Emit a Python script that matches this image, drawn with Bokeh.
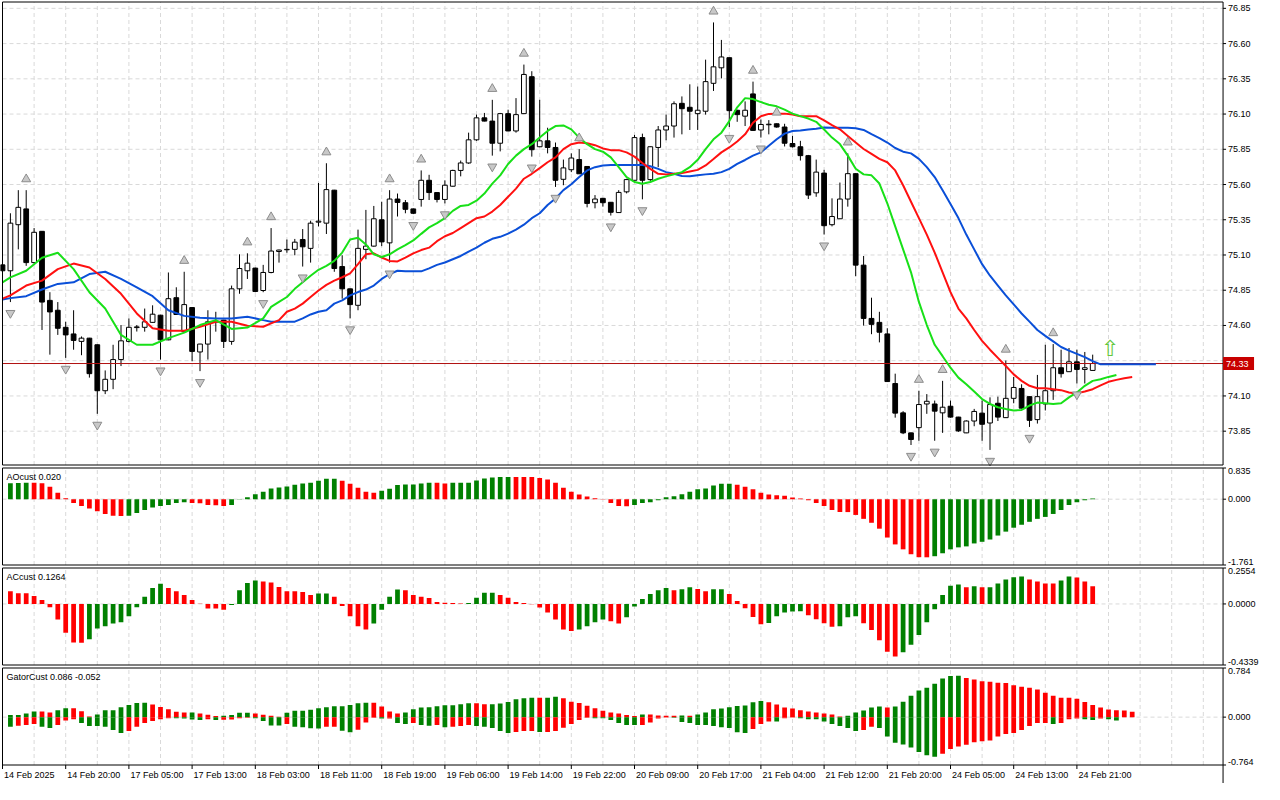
from bokeh.plotting import figure
from bokeh.layouts import gridplot
from bokeh.models import Range1d, ColumnDataSource
from bokeh.embed import file_html
from bokeh.resources import INLINE
from bokeh.core.properties import value

# ---------------- data ----------------
FIRST_BAR = -1
OPEN = [75.030, 74.988, 75.315, 75.427, 75.046, 75.268, 74.778, 74.708, 74.587, 74.540, 74.487, 74.510, 74.463, 74.137, 74.218, 74.358, 74.487, 74.585, 74.587, 74.622, 74.673, 74.498, 74.797, 74.556, 74.727, 74.412, 74.468, 74.625, 74.638, 74.487, 74.860, 74.988, 75.007, 74.848, 74.976, 75.125, 75.137, 75.140, 75.210, 75.147, 75.333, 75.326, 75.560, 75.018, 74.860, 74.743, 75.140, 75.163, 75.350, 75.186, 75.497, 75.471, 75.427, 75.494, 75.630, 75.543, 75.494, 75.588, 75.700, 75.753, 75.917, 76.073, 76.050, 75.893, 76.103, 75.980, 76.103, 76.365, 75.868, 75.910, 75.863, 75.637, 75.705, 75.777, 75.728, 75.471, 75.502, 75.474, 75.401, 75.548, 75.630, 75.933, 75.635, 75.863, 75.987, 76.015, 76.176, 76.148, 76.103, 76.120, 76.318, 76.428, 76.500, 76.127, 76.085, 76.243, 75.987, 76.024, 76.031, 76.008, 75.891, 75.868, 75.805, 75.541, 75.681, 75.315, 75.357, 75.497, 75.677, 75.028, 74.650, 74.622, 74.540, 74.188, 73.980, 73.838, 73.875, 74.043, 74.043, 73.980, 74.027, 73.950, 73.838, 73.922, 73.978, 73.908, 74.048, 73.946, 74.083, 74.153, 74.095, 73.932, 74.043, 74.137, 74.300, 74.272, 74.342, 74.288, 74.281]
HIGH = [75.050, 75.396, 75.560, 75.560, 75.291, 75.270, 74.836, 74.766, 74.626, 74.708, 74.522, 74.512, 74.465, 74.281, 74.463, 74.603, 74.650, 74.603, 74.720, 74.743, 74.675, 74.976, 74.871, 74.981, 74.730, 74.470, 74.708, 74.697, 74.640, 74.883, 75.105, 75.112, 75.010, 75.030, 75.291, 75.138, 75.210, 75.214, 75.284, 75.343, 75.611, 75.751, 75.562, 75.098, 74.862, 75.280, 75.420, 75.448, 75.478, 75.560, 75.536, 75.490, 75.430, 75.700, 75.669, 75.545, 75.630, 75.705, 75.770, 75.968, 76.096, 76.108, 76.201, 76.108, 76.131, 76.213, 76.451, 76.404, 76.201, 76.003, 75.898, 75.777, 75.821, 75.851, 75.730, 75.525, 75.505, 75.475, 75.560, 75.641, 75.952, 75.961, 75.870, 76.015, 76.096, 76.190, 76.225, 76.311, 76.295, 76.486, 76.750, 76.626, 76.500, 76.130, 76.190, 76.330, 76.061, 76.057, 76.033, 76.031, 75.945, 75.910, 75.810, 75.777, 75.704, 75.502, 75.614, 75.821, 75.680, 75.093, 74.797, 74.697, 74.580, 74.258, 73.992, 73.840, 74.137, 74.113, 74.067, 74.207, 74.067, 73.952, 73.927, 74.008, 74.067, 74.090, 74.095, 74.351, 74.235, 74.183, 74.096, 74.249, 74.463, 74.468, 74.428, 74.440, 74.428, 74.412, 74.393]
LOW = [74.960, 74.766, 75.140, 75.023, 75.040, 74.568, 74.393, 74.533, 74.370, 74.428, 74.389, 74.230, 73.973, 74.113, 74.148, 74.312, 74.480, 74.557, 74.556, 74.620, 74.358, 74.495, 74.675, 74.553, 74.346, 74.276, 74.358, 74.556, 74.440, 74.463, 74.825, 74.930, 74.836, 74.836, 74.970, 75.046, 75.116, 75.098, 75.018, 75.046, 75.303, 75.249, 74.981, 74.790, 74.650, 74.708, 75.070, 75.160, 75.163, 75.046, 75.373, 75.396, 75.390, 75.443, 75.490, 75.473, 75.466, 75.585, 75.658, 75.747, 75.910, 76.048, 75.805, 75.835, 75.978, 75.968, 76.100, 75.798, 75.865, 75.821, 75.583, 75.595, 75.688, 75.675, 75.438, 75.431, 75.443, 75.380, 75.400, 75.537, 75.630, 75.495, 75.618, 75.723, 75.914, 75.933, 75.956, 75.987, 75.987, 76.096, 76.264, 76.353, 76.008, 76.045, 76.015, 75.980, 75.933, 75.956, 76.003, 75.870, 75.863, 75.770, 75.497, 75.513, 75.245, 75.303, 75.355, 75.443, 74.949, 74.599, 74.538, 74.480, 74.200, 73.946, 73.829, 73.752, 73.782, 73.973, 73.782, 73.838, 73.946, 73.845, 73.836, 73.885, 73.782, 73.717, 73.922, 73.945, 74.048, 74.010, 73.880, 73.904, 73.997, 74.072, 74.230, 74.270, 74.188, 74.188, 74.280]
CLOSE = [74.988, 75.326, 75.438, 75.046, 75.261, 74.766, 74.696, 74.580, 74.533, 74.494, 74.510, 74.258, 74.137, 74.218, 74.358, 74.491, 74.587, 74.590, 74.626, 74.680, 74.498, 74.790, 74.678, 74.748, 74.416, 74.468, 74.626, 74.630, 74.487, 74.860, 75.004, 75.042, 74.841, 74.976, 75.128, 75.135, 75.140, 75.191, 75.158, 75.326, 75.340, 75.564, 75.004, 74.860, 74.748, 75.147, 75.163, 75.357, 75.193, 75.497, 75.473, 75.424, 75.396, 75.630, 75.543, 75.494, 75.595, 75.700, 75.753, 75.917, 76.073, 76.050, 75.893, 76.103, 75.980, 76.096, 76.381, 75.847, 75.910, 75.863, 75.630, 75.718, 75.788, 75.676, 75.466, 75.497, 75.471, 75.403, 75.544, 75.635, 75.933, 75.630, 75.868, 75.987, 76.015, 76.173, 76.138, 76.120, 76.127, 76.330, 76.435, 76.505, 76.124, 76.096, 76.127, 75.984, 76.026, 76.028, 76.008, 75.893, 75.868, 75.805, 75.525, 75.688, 75.308, 75.373, 75.497, 75.677, 75.028, 74.650, 74.608, 74.552, 74.202, 73.978, 73.838, 73.791, 74.039, 74.062, 73.992, 74.020, 73.950, 73.852, 73.922, 73.990, 73.899, 74.039, 73.950, 74.083, 74.160, 74.013, 73.927, 74.095, 74.137, 74.300, 74.258, 74.342, 74.288, 74.300, 74.330]

FRACTAL_UP = [2, 22, 30, 33, 40, 48, 52, 61, 65, 72, 89, 94, 97, 106, 115, 118, 126, 132]
FRACTAL_DOWN = [0, 7, 11, 19, 24, 32, 37, 43, 48, 51, 55, 61, 66, 69, 76, 80, 91, 95, 103, 114, 117, 124, 129, 135]

# Alligator (jaw = blue, teeth = red, lips = green), read at these bar indices
EVEN_BARS = [-1] + list(range(0, 33, 2))
JAW = [74.785, 74.794, 74.808, 74.855, 74.895, 74.906, 74.965, 74.981, 74.930, 74.871, 74.808, 74.708, 74.668, 74.654, 74.650, 74.650, 74.662, 74.638,
       74.627, 74.627, 74.627, 74.627, 74.650, 74.678, 74.697, 74.708, 74.755, 74.778, 74.813, 74.837, 74.855, 74.883, 74.930, 74.965, 74.988, 74.984, 74.984, 74.984, 75.005, 75.030, 75.047, 75.070, 75.093, 75.124, 75.152, 75.187, 75.215, 75.229, 75.252, 75.280, 75.315, 75.361, 75.396, 75.455,
       75.501, 75.560, 75.602, 75.653, 75.700, 75.723, 75.735, 75.739, 75.739, 75.739, 75.739, 75.739, 75.730, 75.711, 75.688, 75.676, 75.660, 75.658, 75.665, 75.672, 75.676, 75.688, 75.711, 75.746, 75.774, 75.805, 75.828, 75.875, 75.921, 75.961, 75.980, 75.984, 75.991, 75.996, 76.005,
       76.003, 76.003, 76.003, 75.999, 75.987, 75.957, 75.929, 75.898, 75.859, 75.833, 75.821, 75.782, 75.723, 75.653, 75.560, 75.462, 75.362, 75.245, 75.140, 75.035, 74.953, 74.883, 74.813, 74.750, 74.685, 74.627, 74.568, 74.526, 74.487, 74.447, 74.421, 74.398, 74.375, 74.347,
       74.324, 74.324, 74.324, 74.324, 74.324, 74.324, 74.324, 74.324]
TEETH = [74.790, 74.813, 74.883, 74.918, 75.000, 75.039, 75.011, 74.930, 74.825, 74.685, 74.580, 74.563, 74.563, 74.591, 74.626, 74.626, 74.598, 74.591,
         74.615, 74.638, 74.697, 74.720, 74.755, 74.802, 74.848, 74.888, 74.918, 74.942, 74.970, 75.035, 75.105, 75.112, 75.082, 75.058, 75.054, 75.082, 75.112, 75.135, 75.152, 75.198, 75.233, 75.256, 75.291, 75.326, 75.361, 75.373, 75.408, 75.455, 75.513, 75.571, 75.641, 75.676, 75.716, 75.758,
         75.793, 75.851, 75.886, 75.898, 75.893, 75.879, 75.856, 75.844, 75.844, 75.828, 75.798, 75.753, 75.711, 75.676, 75.672, 75.676, 75.681, 75.693, 75.704, 75.735, 75.781, 75.828, 75.863, 75.905, 75.956, 76.038, 76.085, 76.101, 76.103, 76.103, 76.096, 76.085, 76.085, 76.085, 76.055,
         76.022, 75.992, 75.945, 75.898, 75.852, 75.817, 75.782, 75.758, 75.700, 75.595, 75.478, 75.362, 75.245, 75.117, 74.977, 74.837, 74.720, 74.650, 74.568, 74.491, 74.428, 74.370, 74.312, 74.253, 74.207, 74.172, 74.155, 74.155, 74.148, 74.141, 74.125, 74.118, 74.132, 74.148, 74.175, 74.200, 74.214, 74.226, 74.235]
LIPS = [74.906, 74.941, 74.988, 75.081, 75.116, 75.000, 74.836, 74.720, 74.533, 74.463, 74.463, 74.510, 74.549, 74.603, 74.638, 74.575, 74.585, 74.650,
        74.732, 74.767, 74.802, 74.860, 74.907, 74.953, 74.995, 75.023, 75.058, 75.117, 75.210, 75.222, 75.175, 75.105, 75.086, 75.105, 75.140, 75.170, 75.203, 75.250, 75.296, 75.326, 75.361, 75.413, 75.448, 75.455, 75.485, 75.536, 75.606, 75.665, 75.746, 75.805, 75.851, 75.886, 75.933, 75.980,
        76.015, 76.019, 75.991, 75.933, 75.886, 75.851, 75.833, 75.793, 75.723, 75.653, 75.618, 75.606, 75.618, 75.641, 75.658, 75.672, 75.688, 75.723, 75.775, 75.851, 75.921, 75.968, 76.050, 76.148, 76.213, 76.206, 76.185, 76.166, 76.155, 76.131, 76.103, 76.085, 76.068, 76.045, 75.990,
        75.933, 75.887, 75.805, 75.712, 75.672, 75.665, 75.607, 75.467, 75.303, 75.140, 74.977, 74.767, 74.603, 74.463, 74.382, 74.300, 74.230, 74.183, 74.132, 74.078, 74.043, 74.020, 74.008, 73.997, 74.001, 74.032, 74.053, 74.048, 74.043, 74.048, 74.090, 74.125, 74.172, 74.207, 74.219, 74.235, 74.249]

LAST_PRICE = 74.33
SIGNAL_BAR = 139.2
SIGNAL_PRICE = 74.44

AO = [0.430, 0.435, 0.440, 0.438, 0.430, 0.333, 0.175, 0.026, -0.105, -0.184, -0.246, -0.324, -0.395, -0.440, -0.450, -0.445, -0.368, -0.289, -0.219, -0.184, -0.158, -0.105, -0.079, -0.105, -0.110, -0.158, -0.160, -0.184, -0.158, -0.005, 0.053, 0.132, 0.202, 0.289, 0.316, 0.342, 0.386, 0.421, 0.439, 0.491, 0.544, 0.548, 0.491, 0.412, 0.307, 0.202, 0.175, 0.228, 0.280, 0.377, 0.395, 0.396, 0.421, 0.439, 0.438, 0.421, 0.439, 0.440, 0.441, 0.500, 0.553, 0.579, 0.596, 0.597, 0.595, 0.594, 0.593, 0.570, 0.526, 0.439, 0.307, 0.202, 0.123, 0.070, 0.026, -0.010, -0.105, -0.184, -0.186, -0.158, -0.105, -0.079, -0.026, 0.053, 0.079, 0.132, 0.202, 0.263, 0.289, 0.368, 0.412, 0.414, 0.386, 0.333, 0.263, 0.175, 0.123, 0.105, 0.090, 0.044, 0.018, -0.026, -0.105, -0.184, -0.289, -0.342, -0.345, -0.421, -0.526, -0.631, -0.789, -1.026, -1.210, -1.342, -1.473, -1.552, -1.555, -1.526, -1.447, -1.342, -1.289, -1.263, -1.184, -1.140, -1.079, -0.973, -0.868, -0.763, -0.684, -0.605, -0.526, -0.474, -0.395, -0.289, -0.158, -0.079, -0.025, 0.020]
AC = [0.0905, 0.0766, 0.0760, 0.0557, 0.0279, -0.0232, -0.111, -0.204, -0.274, -0.275, -0.251, -0.174, -0.158, -0.139, -0.130, -0.088, -0.023, 0.051, 0.114, 0.144, 0.114, 0.091, 0.063, 0.028, 0.002, -0.032, -0.033, -0.042, -0.007, 0.097, 0.149, 0.167, 0.160, 0.153, 0.121, 0.091, 0.090, 0.084, 0.063, 0.074, 0.075, 0.051, -0.014, -0.088, -0.158, -0.181, -0.139, -0.042, 0.051, 0.102, 0.097, 0.063, 0.051, 0.042, 0.014, 0.008, 0.006, 0.004, 0.007, 0.044, 0.079, 0.080, 0.063, 0.044, 0.014, 0.007, -0.002, -0.026, -0.060, -0.111, -0.181, -0.193, -0.181, -0.158, -0.130, -0.111, -0.123, -0.139, -0.095, -0.019, 0.035, 0.070, 0.097, 0.114, 0.097, 0.104, 0.118, 0.107, 0.091, 0.104, 0.105, 0.070, 0.021, -0.030, -0.093, -0.144, -0.135, -0.088, -0.060, -0.053, -0.052, -0.081, -0.109, -0.137, -0.162, -0.158, -0.095, -0.088, -0.137, -0.186, -0.258, -0.339, -0.374, -0.344, -0.290, -0.220, -0.130, -0.037, 0.063, 0.130, 0.139, 0.118, 0.125, 0.118, 0.119, 0.146, 0.174, 0.190, 0.195, 0.174, 0.160, 0.146, 0.145, 0.167, 0.195, 0.188, 0.160, 0.1264]
GATOR_UP = [0.032, 0.034, 0.058, 0.089, 0.088, 0.074, 0.110, 0.142, 0.140, 0.095, 0.011, 0.042, 0.110, 0.111, 0.158, 0.195, 0.226, 0.231, 0.200, 0.163, 0.126, 0.084, 0.074, 0.075, 0.058, 0.037, 0.016, 0.021, 0.032, 0.068, 0.069, 0.058, 0.037, 0.021, 0.005, 0.068, 0.100, 0.101, 0.116, 0.142, 0.158, 0.174, 0.175, 0.195, 0.221, 0.231, 0.230, 0.168, 0.089, 0.058, 0.074, 0.126, 0.153, 0.158, 0.174, 0.189, 0.190, 0.205, 0.221, 0.220, 0.205, 0.206, 0.216, 0.242, 0.284, 0.300, 0.310, 0.309, 0.310, 0.326, 0.300, 0.247, 0.226, 0.180, 0.142, 0.100, 0.074, 0.058, 0.032, 0.016, 0.042, 0.042, 0.026, 0.021, 0.021, 0.026, 0.021, 0.042, 0.074, 0.126, 0.137, 0.158, 0.179, 0.184, 0.237, 0.258, 0.237, 0.200, 0.153, 0.137, 0.110, 0.089, 0.074, 0.058, 0.042, 0.011, 0.021, 0.074, 0.105, 0.153, 0.168, 0.153, 0.168, 0.247, 0.342, 0.426, 0.468, 0.531, 0.615, 0.658, 0.660, 0.626, 0.600, 0.573, 0.563, 0.547, 0.545, 0.510, 0.484, 0.468, 0.442, 0.389, 0.342, 0.310, 0.309, 0.295, 0.242, 0.195, 0.153, 0.121, 0.110, 0.105, 0.086]
GATOR_DOWN = [-0.153, -0.137, -0.126, -0.110, -0.153, -0.174, -0.126, -0.053, -0.032, -0.095, -0.142, -0.143, -0.153, -0.205, -0.252, -0.221, -0.153, -0.095, -0.063, -0.032, -0.016, -0.017, -0.021, -0.037, -0.047, -0.032, -0.047, -0.042, -0.037, -0.016, -0.011, -0.016, -0.063, -0.132, -0.133, -0.110, -0.153, -0.163, -0.179, -0.180, -0.153, -0.152, -0.216, -0.242, -0.200, -0.084, -0.011, -0.021, -0.021, -0.095, -0.110, -0.095, -0.126, -0.137, -0.126, -0.163, -0.153, -0.142, -0.126, -0.142, -0.153, -0.174, -0.221, -0.252, -0.237, -0.221, -0.220, -0.237, -0.236, -0.221, -0.168, -0.110, -0.047, -0.011, -0.016, -0.017, -0.047, -0.095, -0.126, -0.127, -0.125, -0.084, -0.021, -0.005, -0.011, -0.079, -0.095, -0.126, -0.127, -0.142, -0.163, -0.174, -0.242, -0.252, -0.189, -0.110, -0.068, -0.069, -0.016, -0.005, -0.016, -0.032, -0.033, -0.068, -0.110, -0.142, -0.174, -0.221, -0.205, -0.153, -0.174, -0.310, -0.410, -0.437, -0.484, -0.557, -0.610, -0.631, -0.584, -0.510, -0.468, -0.442, -0.400, -0.384, -0.373, -0.310, -0.268, -0.252, -0.205, -0.142, -0.095, -0.094, -0.110, -0.095, -0.032, -0.021, -0.032, -0.047, -0.021, -0.032, -0.052]

PRICE_TICKS = [73.85, 74.10, 74.60, 74.85, 75.10, 75.35, 75.60, 75.85, 76.10, 76.35, 76.60, 76.85]
PRICE_GRID = [73.85, 74.10, 74.35, 74.60, 74.85, 75.10, 75.35, 75.60, 75.85, 76.10, 76.35, 76.60, 76.85]
PRICE_RANGE = (73.61, 76.895)
AO_RANGE = (-1.761, 0.835)
AC_RANGE = (-0.4339, 0.2554)
GATOR_RANGE = (-0.764, 0.784)
TIME_TICKS = [-1, 7, 15, 23, 31, 39, 47, 55, 63, 71, 79, 87, 95, 103, 111, 119, 127, 135]
TIME_LABELS = ["14 Feb 2025", "14 Feb 20:00", "17 Feb 05:00", "17 Feb 13:00", "18 Feb 03:00", "18 Feb 11:00",
               "18 Feb 19:00", "19 Feb 06:00", "19 Feb 14:00", "19 Feb 22:00", "20 Feb 09:00", "20 Feb 17:00",
               "21 Feb 04:00", "21 Feb 12:00", "21 Feb 20:00", "24 Feb 05:00", "24 Feb 13:00", "24 Feb 21:00"]
AO_TITLE = "AOcust 0.020"
AC_TITLE = "ACcust 0.1264"
GATOR_TITLE = "GatorCust 0.086 -0.052"

# ---------------- style / geometry ----------------
W = 1264
MAIN_H, SUB_H, STRIP_H = 466, 100, 18
PPB = 7.9                      # pixels per bar
X_START = -1 - 2 / PPB
X_END = X_START + W / PPB
AXIS_X = 153.5                 # right border / price axis position (in bars)
FONT = "Liberation Sans"
FS = "9px"
GRID_COLOR = "#d9d9d9"
DASH = "4 3"
GREEN = "#008000"
RED = "#ff0000"
JAW_C, TEETH_C, LIPS_C = "#0a4fd8", "#ff1010", "#18e018"

x_range = Range1d(X_START, X_END)
grid_x = list(range(3, 153, 4))
px_x = 1.0 / PPB


def panel(height, lo, hi, strip=0):
    upp = (hi - lo) / (height - strip - 3.0)
    yr = Range1d(lo - (1.5 + strip) * upp, hi + 1.5 * upp)
    p = figure(width=W, height=height, x_range=x_range, y_range=yr,
               output_backend="svg", toolbar_location=None, tools="",
               x_axis_location=None, y_axis_location=None,
               min_border_left=0, min_border_right=0, min_border_top=0, min_border_bottom=0)
    p.grid.visible = False
    p.outline_line_color = None
    p.background_fill_color = "white"
    p.border_fill_color = "white"
    # vertical dashed grid
    n = len(grid_x)
    p.segment(x0=grid_x, x1=grid_x, y0=[lo] * n, y1=[hi] * n,
              line_color=GRID_COLOR, line_dash=DASH, line_width=1)
    return p, upp


def hgrid(p, levels):
    n = len(levels)
    p.segment(x0=[-1] * n, x1=[AXIS_X] * n, y0=levels, y1=levels,
              line_color=GRID_COLOR, line_dash=DASH, line_width=1)


def frame_and_axis(p, lo, hi, upp, ticks, labels, baseline="middle"):
    p.quad(left=[-1], right=[AXIS_X], bottom=[lo], top=[hi], fill_color=None,
           line_color="black", line_width=1)
    n = len(ticks)
    p.segment(x0=[AXIS_X] * n, x1=[AXIS_X + 3 * px_x] * n, y0=ticks, y1=ticks,
              line_color="black", line_width=1)
    if isinstance(baseline, str):
        baseline = [baseline] * n
    for bl in set(baseline):
        idx = [i for i in range(n) if baseline[i] == bl]
        p.text(x=[AXIS_X + 5 * px_x] * len(idx), y=[ticks[i] for i in idx], text=[labels[i] for i in idx],
               text_font=value(FONT), text_font_size=value(FS), text_color="black",
               text_align="left", text_baseline=bl)


def panel_title(p, hi, upp, title):
    p.text(x=[-1 + 4 * px_x], y=[hi - 4 * upp], text=[title], text_font=value(FONT),
           text_font_size=value(FS), text_color="black", text_align="left", text_baseline="top")


def bar_colors(vals, first, absolute=False):
    cols = [first]
    for i in range(1, len(vals)):
        a, b = vals[i], vals[i - 1]
        if absolute:
            a, b = abs(a), abs(b)
        cols.append(GREEN if a > b else RED)
    return cols


# ---------------- main price panel ----------------
lo, hi = PRICE_RANGE
p1, upp1 = panel(MAIN_H, lo, hi)
hgrid(p1, PRICE_GRID)

bars = list(range(FIRST_BAR, FIRST_BAR + len(OPEN)))
bull = [c >= o for o, c in zip(OPEN, CLOSE)]
csrc = ColumnDataSource(dict(
    x=bars, high=HIGH, low=LOW,
    top=[max(o, c) for o, c in zip(OPEN, CLOSE)],
    bottom=[min(o, c) for o, c in zip(OPEN, CLOSE)],
    fill=["white" if b else "black" for b in bull],
))
p1.segment(x0="x", y0="low", x1="x", y1="high", source=csrc, line_color="black", line_width=1)
p1.vbar(x="x", top="top", bottom="bottom", width=0.6, source=csrc, fill_color="fill", line_color="black", line_width=1)

# last-price line
p1.segment(x0=[-1], x1=[AXIS_X], y0=[LAST_PRICE], y1=[LAST_PRICE], line_color="#b01010", line_width=1)

jaw_x = EVEN_BARS + list(range(33, 33 + len(JAW) - len(EVEN_BARS)))
teeth_x = EVEN_BARS + list(range(33, 33 + len(TEETH) - len(EVEN_BARS)))
lips_x = EVEN_BARS + list(range(33, 33 + len(LIPS) - len(EVEN_BARS)))
p1.line(jaw_x, JAW, line_color=JAW_C, line_width=2)
p1.line(teeth_x, TEETH, line_color=TEETH_C, line_width=2)
p1.line(lips_x, LIPS, line_color=LIPS_C, line_width=2)

up_y = [HIGH[b - FIRST_BAR] + 11 * upp1 for b in FRACTAL_UP]
dn_y = [LOW[b - FIRST_BAR] - 11 * upp1 for b in FRACTAL_DOWN]
p1.scatter(FRACTAL_UP, up_y, marker="triangle", size=9, fill_color="#c8c8c8", line_color="#8c8c8c")
p1.scatter(FRACTAL_DOWN, dn_y, marker="inverted_triangle", size=9, fill_color="#c8c8c8", line_color="#8c8c8c")

p1.text(x=[SIGNAL_BAR], y=[SIGNAL_PRICE], text=["\u21e7"], text_font=value("DejaVu Sans"),
        text_font_size=value("22px"), text_color="#62c83c", text_align="center", text_baseline="middle")

frame_and_axis(p1, lo, hi, upp1, PRICE_TICKS, [f"{t:.2f}" for t in PRICE_TICKS])

# last-price tag on the axis
p1.quad(left=[AXIS_X], right=[AXIS_X + 31 * px_x], bottom=[LAST_PRICE - 6.5 * upp1],
        top=[LAST_PRICE + 6.5 * upp1], fill_color="#c80000", line_color=None)
p1.text(x=[AXIS_X + 3 * px_x], y=[LAST_PRICE], text=[f"{LAST_PRICE:.2f}"], text_font=value(FONT),
        text_font_size=value(FS), text_color="white", text_align="left", text_baseline="middle")


def indicator(vals_list, rng, decimals, title, firsts, absolutes, height=SUB_H, strip=0):
    lo, hi = rng
    p, upp = panel(height, lo, hi, strip=strip)
    hgrid(p, [0])
    for vals, first, ab in zip(vals_list, firsts, absolutes):
        src = ColumnDataSource(dict(x=list(range(len(vals))), top=vals,
                                    color=bar_colors(vals, first, absolute=ab)))
        p.vbar(x="x", top="top", bottom=0, width=0.6, source=src, fill_color="color", line_color=None)
    ticks = [hi, 0.0, lo]
    labels = [f"{t:.{decimals}f}" for t in ticks]
    frame_and_axis(p, lo, hi, upp, ticks, labels, baseline=["top", "middle", "bottom"])
    panel_title(p, hi, upp, title)
    return p, upp


p2, _ = indicator([AO], AO_RANGE, 3, AO_TITLE, [GREEN], [False])
p3, _ = indicator([AC], AC_RANGE, 4, AC_TITLE, [RED], [False])
p4, upp4 = indicator([GATOR_UP, GATOR_DOWN], GATOR_RANGE, 3, GATOR_TITLE, [GREEN, GREEN], [False, True],
                     height=SUB_H + STRIP_H, strip=STRIP_H)

# time axis (drawn inside the bottom strip of the gator panel)
glo = GATOR_RANGE[0]
n = len(TIME_TICKS)
p4.segment(x0=TIME_TICKS, x1=TIME_TICKS, y0=[glo] * n, y1=[glo - 4 * upp4] * n, line_color="black", line_width=1)
p4.segment(x0=[AXIS_X], x1=[AXIS_X], y0=[glo - STRIP_H * upp4], y1=[glo], line_color="black", line_width=1)
p4.text(x=[t + 1.5 * px_x for t in TIME_TICKS], y=[glo - 10 * upp4] * n, text=TIME_LABELS,
        text_font=value(FONT), text_font_size=value(FS), text_color="black",
        text_align="left", text_baseline="middle")

layout = gridplot([[p1], [p2], [p3], [p4]], toolbar_location=None)

open("out.html", "w").write(file_html(layout, INLINE))
